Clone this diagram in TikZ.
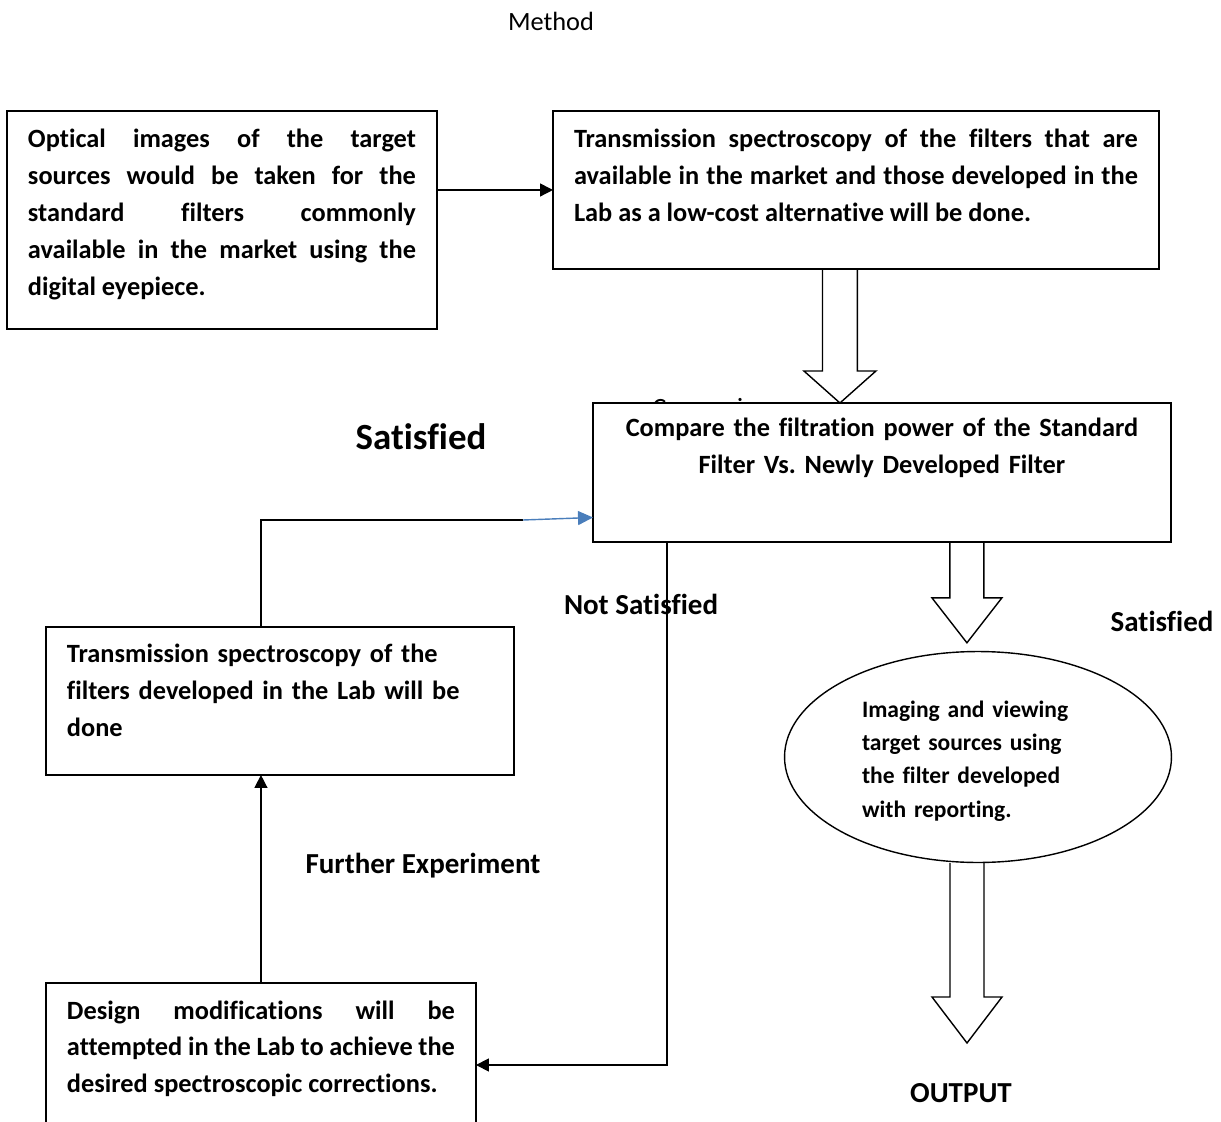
\documentclass[tikz,border=0pt]{standalone}
\usepackage{fontspec}
\setmainfont{Carlito}[Ligatures=NoCommon]
\usetikzlibrary{shapes.geometric,arrows.meta,positioning,calc}
\definecolor{linkBlue}{HTML}{4A7EBB}
\frenchspacing

\begin{document}
\begin{tikzpicture}[
    x=0.02cm, y=-0.02cm,
    box/.style={rectangle, draw, line width=0.8pt, fill=white, anchor=north west,
                inner xsep=0.42cm, inner ysep=0pt, outer sep=0pt,
                font=\fontsize{15}{21}\selectfont\bfseries},
    lbl/.style={font=\fontsize{16.5}{20}\selectfont\bfseries, anchor=base, inner sep=0pt},
    note/.style={font=\fontsize{15}{18}\selectfont, inner sep=0pt},
    wire/.style={line width=0.8pt},
    arrow/.style={line width=0.8pt, -{Triangle[length=0.26cm, width=0.26cm]}},
    bluearrow/.style={line width=0.8pt, linkBlue, -{Triangle[length=0.3cm, width=0.28cm]}},
    fat/.style={draw, line width=0.8pt, line join=miter},
]
    \useasboundingbox (0,0) rectangle (1221,1122);

    \node[note, anchor=base] (title) at (551,31) {Method};
    % sits under the compare box, only its top shows
    \node[note, anchor=base west] (cmp) at (652,416) {Comparison};

    \node[box, text width=7.76cm, align=justify, text height=0.74cm, text depth=3.62cm]
         (optic) at (7,111) {Optical images of the target\linebreak
         sources would be taken for the\linebreak standard filters commonly\linebreak
         available in the market using the\linebreak digital eyepiece.};
    \node[box, text width=11.28cm, align=justify, text height=0.74cm, text depth=2.42cm]
         (spec) at (553,111) {Transmission spectroscopy of the filters that are\linebreak
         available in the market and those developed in the\linebreak
         Lab as a low-cost alternative will be done.};
    \node[box, text width=10.72cm, align=center, text height=0.68cm, text depth=2.1cm]
         (compare) at (593,403) {Compare the filtration power of the Standard\\
         Filter Vs. Newly Developed Filter};
    \node[box, text width=8.52cm, align=left, text height=0.72cm, text depth=2.24cm]
         (labspec) at (46,627) {Transmission spectroscopy of the\\
         filters developed in the Lab will be\\ done};
    \node[box, text width=7.76cm, align=justify, text height=0.72cm, text depth=2.56cm]
         (design) at (46,983) {Design modifications will be\linebreak
         attempted in the Lab to achieve the\linebreak desired spectroscopic corrections.};
    \node[ellipse, draw, line width=0.8pt, minimum width=7.74cm, minimum height=4.22cm,
          inner sep=0pt, text width=4.64cm, align=left, text height=0.4cm, text depth=2.0cm,
          font=\fontsize{13.4}{19}\selectfont\bfseries]
         (imaging) at (978,757) {Imaging and viewing\\ target sources using\\
         the filter developed\\ with reporting.};

    \node[lbl, font=\fontsize{21}{25}\selectfont\bfseries] (sat1) at (421,449) {Satisfied};
    \node[lbl] (notsat) at (641,614) {Not Satisfied};
    \node[lbl] (sat2) at (1162,631) {Satisfied};
    \node[lbl] (further) at (423,873) {Further Experiment};
    \node[lbl] (output) at (961,1102) {OUTPUT};
    \coordinate (outtip) at (967,1043);
    \coordinate (bend) at (523,520);

    \draw[arrow] (optic.east |- spec.west) -- (spec.west);
    \draw[wire] (design.north |- labspec.north) |- (bend);
    \draw[bluearrow] (bend) -- ([yshift=-0.9cm]compare.west);
    \draw[arrow] (design.north) -- (design.north |- labspec.south);
    \draw[arrow] ([xshift=1.48cm]compare.south west) |- (design.east);

    % block arrows
    \draw[fat] let \p1=([xshift=-0.32cm]spec.south), \p2=(compare.north) in
        (\x1-0.35cm,\y1) -- (\x1-0.35cm,\y2+0.64cm) -- (\x1-0.72cm,\y2+0.64cm) -- (\x1,\y2)
        -- (\x1+0.72cm,\y2+0.64cm) -- (\x1+0.35cm,\y2+0.64cm) -- (\x1+0.35cm,\y1);
    \draw[fat] let \p1=([xshift=1.7cm]compare.south), \p2=([yshift=0.16cm]imaging.north) in
        (\x1-0.34cm,\y1) -- (\x1-0.34cm,\y2+0.9cm) -- (\x1-0.7cm,\y2+0.9cm) -- (\x1,\y2)
        -- (\x1+0.7cm,\y2+0.9cm) -- (\x1+0.34cm,\y2+0.9cm) -- (\x1+0.34cm,\y1);
    \draw[fat] let \p1=([xshift=-0.22cm]imaging.south), \p2=(outtip) in
        (\x1-0.34cm,\y1) -- (\x1-0.34cm,\y2+0.92cm) -- (\x1-0.7cm,\y2+0.92cm) -- (\x1,\y2)
        -- (\x1+0.7cm,\y2+0.92cm) -- (\x1+0.34cm,\y2+0.92cm) -- (\x1+0.34cm,\y1);
\end{tikzpicture}
\end{document}
